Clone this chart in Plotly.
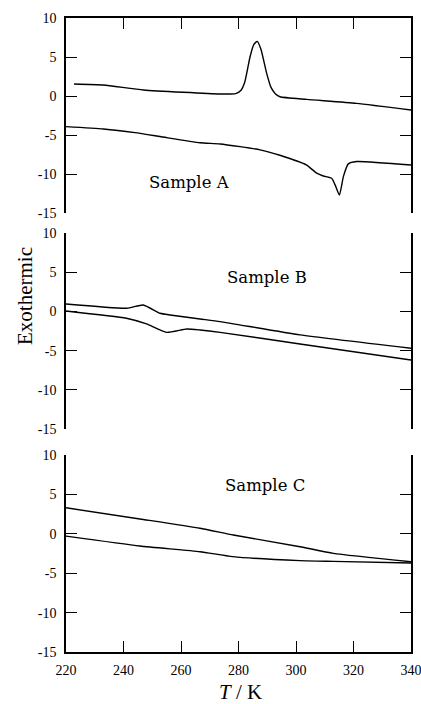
import plotly.graph_objects as go

# ---- data ----
A_up_T = [222.8, 233, 247, 273.6, 279.0, 280.8, 282.2, 284.0, 285.3, 286.5, 287.8, 289.8, 291.3, 292.8, 294.4, 303.7, 321, 340]
A_up_y = [1.54, 1.41, 0.77, 0.26, 0.3, 0.7, 1.8, 5.0, 6.6, 7.0, 6.0, 2.9, 1.1, 0.3, -0.1, -0.43, -0.94, -1.8]
A_lo_T = [220, 233, 244, 252.7, 266.6, 273.6, 287.5, 294.4, 303.7, 307.2, 309.5, 312.4, 313.6, 315.1, 316.5, 318.2, 321.1, 340]
A_lo_y = [-3.93, -4.23, -4.7, -5.2, -6.0, -6.15, -6.9, -7.6, -8.85, -9.9, -10.26, -10.55, -11.4, -12.7, -10.3, -8.7, -8.4, -8.85]

B_up_T = [220, 241.1, 246.9, 252.7, 256.2, 266.6, 273.6, 301.4, 340]
B_up_y = [0.94, 0.40, 0.82, -0.24, -0.46, -0.97, -1.3, -3.0, -4.7]
B_lo_T = [220, 241, 248, 255, 262, 266.6, 273.6, 301.4, 340]
B_lo_y = [0.05, -0.88, -1.6, -2.67, -2.24, -2.37, -2.67, -4.16, -6.2]

C_up_T = [220, 245.7, 266.6, 278.2, 301.4, 313, 340]
C_up_y = [3.3, 1.88, 0.7, -0.15, -1.64, -2.48, -3.54]
C_lo_T = [220, 245.7, 266.6, 278, 301.4, 313, 340]
C_lo_y = [-0.3, -1.55, -2.27, -2.9, -3.4, -3.5, -3.7]

x_ticks = [220, 240, 260, 280, 300, 320, 340]
y_ticks = [10, 5, 0, -5, -10, -15]
y_tick_text = ["10", "5", "0", "-5", "-10", "-15"]
labels = ["Sample A", "Sample B", "Sample C"]

W, H = 421, 704
XL, XR = 66 / W, 411 / W
doms = [(1 - 213 / H, 1 - 18 / H), (1 - 429 / H, 1 - 233 / H), (1 - 652 / H, 1 - 455 / H)]

fig = go.Figure()
line = dict(color="black", width=1.4, shape="spline", smoothing=0.5)
curves = [(A_up_T, A_up_y, A_lo_T, A_lo_y), (B_up_T, B_up_y, B_lo_T, B_lo_y), (C_up_T, C_up_y, C_lo_T, C_lo_y)]
for i, (t1, y1, t2, y2) in enumerate(curves):
    xa = "x" if i == 0 else f"x{i+1}"
    ya = "y" if i == 0 else f"y{i+1}"
    fig.add_trace(go.Scatter(x=t1, y=y1, mode="lines", line=line, xaxis=xa, yaxis=ya, showlegend=False, cliponaxis=False))
    fig.add_trace(go.Scatter(x=t2, y=y2, mode="lines", line=line, xaxis=xa, yaxis=ya, showlegend=False, cliponaxis=False))

tickfont = dict(family="Liberation Serif", size=14, color="black")
for i in range(3):
    xk = "xaxis" if i == 0 else f"xaxis{i+1}"
    yk = "yaxis" if i == 0 else f"yaxis{i+1}"
    xa = dict(domain=[XL, XR], range=[220, 340], tickvals=x_ticks, anchor="y" if i == 0 else f"y{i+1}",
              showgrid=False, zeroline=False, tickfont=tickfont, automargin=False,
              ticklabeloverflow="allow")
    if i == 0:
        xa.update(side="top", showline=True, linewidth=1.5, linecolor="black", ticks="inside",
                  ticklen=11, tickwidth=1.2, tickcolor="black", showticklabels=False)
    elif i == 1:
        xa.update(showline=False, ticks="", showticklabels=False)
    else:
        xa.update(side="bottom", showline=True, linewidth=1.5, linecolor="black", ticks="inside",
                  ticklen=11, tickwidth=1.2, tickcolor="black", showticklabels=True,
                  ticklabelstandoff=4)
    ya = dict(domain=list(doms[i]), range=[-15, 10], tickvals=y_ticks, ticktext=y_tick_text,
              anchor="x" if i == 0 else f"x{i+1}",
              showline=True, linewidth=1.5, linecolor="black", mirror="ticks", ticks="inside",
              ticklen=11, tickwidth=1.2, tickcolor="black", showgrid=False, zeroline=False,
              tickfont=tickfont, ticklabelstandoff=5, automargin=False, ticklabeloverflow="allow")
    fig.layout[xk] = xa
    fig.layout[yk] = ya

lab_pos = [(189.5, 182), (266.7, 277), (265, 485)]
for txt, (px, py) in zip(labels, lab_pos):
    fig.add_annotation(text=txt, x=px / W, y=1 - py / H, xref="paper", yref="paper", showarrow=False,
                       xanchor="center", yanchor="middle",
                       font=dict(family="DejaVu Serif", size=16.5, color="black"))

fig.add_annotation(text="Exothermic", x=25 / W, y=1 - 296 / H, xref="paper", yref="paper",
                   showarrow=False, textangle=-90, xanchor="center", yanchor="middle",
                   font=dict(family="Liberation Serif", size=21, color="black"))
fig.add_annotation(text="<i>T</i> / K", x=240 / W, y=1 - 692 / H, xref="paper", yref="paper",
                   showarrow=False, xanchor="center", yanchor="middle",
                   font=dict(family="Liberation Serif", size=21, color="black"))

fig.update_layout(width=W, height=H, margin=dict(l=0, r=0, t=0, b=0),
                  paper_bgcolor="white", plot_bgcolor="white")
fig.write_html("out.html", config={"displayModeBar": False},
               post_script="document.body.style.margin='0';document.body.style.padding='0';")
